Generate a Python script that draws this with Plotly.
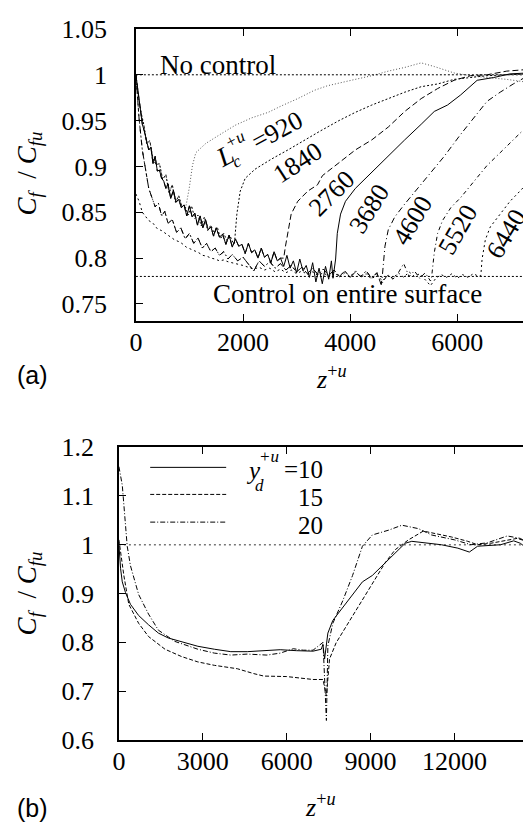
import plotly.graph_objects as go

W, H = 531, 840
SHIFT = 8  # the page body offsets the figure by 8 px; positions below are in screen pixels

# ---------------- panel (a) data ----------------
lc_values = [920, 1840, 2760, 3680, 4600, 5520, 6440]

# controlled (decaying) part, bundle A
ctrl_a_z = [0, 40, 80, 120, 160, 200, 240, 280, 320, 360, 400, 440, 480, 520, 560, 600, 650, 700, 750, 800,
            850, 900, 950, 1000, 1050, 1100, 1150, 1200, 1250, 1300, 1350, 1400, 1450, 1500, 1560, 1620, 1680,
            1740, 1800, 1860, 1920, 1980, 2040, 2100, 2160, 2220, 2280, 2340, 2400, 2460, 2520, 2580, 2640,
            2700, 2760, 2820, 2880, 2940, 3000, 3060, 3120, 3180, 3240, 3300, 3360, 3420, 3480, 3540, 3600,
            3650]
ctrl_a_cf = [1.000, 0.982, 0.968, 0.946, 0.938, 0.926, 0.918, 0.921, 0.903, 0.911, 0.895, 0.896, 0.887, 0.884,
             0.876, 0.881, 0.865, 0.874, 0.861, 0.864, 0.855, 0.858, 0.846, 0.857, 0.845, 0.849, 0.836, 0.846,
             0.833, 0.842, 0.831, 0.834, 0.824, 0.833, 0.823, 0.826, 0.815, 0.825, 0.812, 0.821, 0.813, 0.815,
             0.805, 0.816, 0.806, 0.809, 0.800, 0.811, 0.801, 0.804, 0.795, 0.807, 0.797, 0.800, 0.791, 0.803,
             0.789, 0.797, 0.784, 0.799, 0.786, 0.792, 0.779, 0.795, 0.774, 0.789, 0.772, 0.791, 0.777, 0.797]

# bundle B (short control sections)
ctrl_b_z = [0, 50, 100, 150, 200, 260, 320, 380, 440, 500, 560, 620, 680, 740, 800, 860, 900, 980, 1040,
            1100, 1160, 1220, 1280, 1340, 1400, 1460, 1520, 1580, 1640, 1700, 1760, 1820]
ctrl_b_cf = [1.000, 0.975, 0.958, 0.945, 0.925, 0.928, 0.908, 0.902, 0.903, 0.886, 0.891, 0.871, 0.880, 0.861,
             0.868, 0.856, 0.858, 0.847, 0.857, 0.843, 0.847, 0.835, 0.845, 0.830, 0.836, 0.827, 0.834, 0.821,
             0.827, 0.819, 0.824, 0.816]

# lower dotted branch C
ctrl_c_z = [0, 60, 120, 180, 240, 320, 400, 480, 550, 640, 720, 800, 860, 940, 1020, 1100, 1170, 1250, 1330,
            1400, 1480, 1560, 1640, 1720, 1800, 1900, 2000, 2100, 2200, 2300, 2400, 2500, 2600, 2700, 2800,
            2900, 3000, 3100, 3200, 3300, 3400, 3500, 3600, 3700, 3800, 3900, 4000, 4100, 4200, 4300, 4400,
            4500, 4600, 4700, 4800, 4900, 5000, 5100, 5200, 5300, 5400, 5500, 5600, 5700, 5800, 5900, 6000,
            6100, 6200, 6300, 6400]
ctrl_c_cf = [0.870, 0.862, 0.850, 0.846, 0.841, 0.838, 0.832, 0.830, 0.827, 0.823, 0.820, 0.818, 0.816, 0.812,
             0.810, 0.808, 0.806, 0.803, 0.802, 0.800, 0.799, 0.797, 0.798, 0.796, 0.795, 0.793, 0.792, 0.790,
             0.788, 0.790, 0.787, 0.789, 0.785, 0.788, 0.784, 0.787, 0.783, 0.786, 0.782, 0.785, 0.781, 0.784,
             0.780, 0.785, 0.779, 0.784, 0.780, 0.786, 0.779, 0.783, 0.777, 0.782, 0.775, 0.781, 0.778, 0.784,
             0.779, 0.785, 0.780, 0.783, 0.776, 0.770, 0.778, 0.782, 0.779, 0.783, 0.778, 0.782, 0.779, 0.783,
             0.780]

# dash-dot branch D
ctrl_d_z = [0, 60, 120, 180, 240, 300, 360, 420, 480, 540, 600, 680, 760, 840, 920, 1000, 1080, 1160, 1240,
            1320, 1400, 1480, 1560, 1640, 1720, 1800, 1900, 2000, 2100, 2200, 2300, 2400, 2500, 2600, 2700,
            2800, 2900, 3000, 3100, 3200, 3300, 3400, 3500, 3600, 3700, 3800, 3900, 4000, 4100, 4200, 4300,
            4400, 4500, 4580, 4700, 4800, 4900, 5000, 5100, 5200, 5300, 5400, 5500]
ctrl_d_cf = [1.000, 0.952, 0.918, 0.895, 0.876, 0.866, 0.856, 0.860, 0.846, 0.851, 0.838, 0.842, 0.828, 0.833,
             0.821, 0.827, 0.816, 0.822, 0.811, 0.816, 0.807, 0.811, 0.803, 0.807, 0.799, 0.804, 0.797, 0.801,
             0.794, 0.786, 0.797, 0.791, 0.796, 0.789, 0.794, 0.787, 0.792, 0.785, 0.790, 0.783, 0.789, 0.782,
             0.788, 0.781, 0.787, 0.780, 0.786, 0.779, 0.785, 0.780, 0.786, 0.778, 0.784, 0.771, 0.782, 0.777,
             0.784, 0.794, 0.780, 0.786, 0.778, 0.784, 0.775]

# recovery parts after the control section ends (z >= Lc)
rec_920_z = [920, 995, 1056, 1119, 1303, 1548, 1856, 2162, 2470, 2715, 3022, 3330, 3575, 4097, 4405, 4712,
             5019, 5326, 5571, 5940, 6248, 6555, 6924, 7293, 7360]
rec_920_cf = [0.852, 0.876, 0.901, 0.915, 0.925, 0.934, 0.945, 0.953, 0.959, 0.966, 0.974, 0.983, 0.988, 0.995,
              0.999, 1.004, 1.008, 1.013, 1.009, 1.002, 0.999, 0.997, 0.995, 0.992, 0.992]
rec_1840_z = [1840, 1885, 1948, 2040, 2225, 2530, 2838, 3146, 3452, 3791, 4097, 4405, 4712, 5019, 5326, 5634,
              5940, 6248, 6555, 6924, 7293, 7360]
rec_1840_cf = [0.816, 0.848, 0.873, 0.887, 0.897, 0.908, 0.918, 0.929, 0.939, 0.950, 0.959, 0.967, 0.974, 0.981,
               0.987, 0.990, 0.995, 0.997, 0.999, 1.000, 1.001, 1.001]
rec_2760_z = [2760, 2790, 2838, 2899, 3022, 3207, 3391, 3483, 3791, 4097, 4405, 4712, 5019, 5326, 5634, 5940,
              6248, 6555, 6924, 7293, 7360]
rec_2760_cf = [0.800, 0.812, 0.827, 0.848, 0.862, 0.873, 0.880, 0.890, 0.904, 0.918, 0.929, 0.943, 0.960, 0.974,
               0.985, 0.994, 0.999, 1.000, 1.004, 1.006, 1.006]
rec_3680_z = [3680, 3729, 3760, 3821, 3913, 4097, 4405, 4712, 5019, 5326, 5571, 5818, 6063, 6371, 6677, 6985,
              7322, 7360]
rec_3680_cf = [0.778, 0.799, 0.827, 0.848, 0.862, 0.876, 0.894, 0.911, 0.929, 0.946, 0.960, 0.967, 0.978, 0.994,
               0.997, 1.001, 1.002, 1.003]
rec_4600_z = [4600, 4650, 4712, 4834, 5019, 5265, 5511, 5756, 6063, 6309, 6555, 6801, 7046, 7322, 7360]
rec_4600_cf = [0.780, 0.813, 0.831, 0.845, 0.859, 0.876, 0.894, 0.911, 0.935, 0.953, 0.971, 0.981, 0.990, 0.999,
               1.000]
rec_5520_z = [5520, 5571, 5633, 5725, 5879, 6063, 6309, 6555, 6801, 7046, 7322, 7360]
rec_5520_cf = [0.779, 0.806, 0.827, 0.841, 0.855, 0.866, 0.883, 0.901, 0.915, 0.929, 0.945, 0.947]
rec_6440_z = [6440, 6463, 6524, 6616, 6801, 6985, 7169, 7322, 7360]
rec_6440_cf = [0.781, 0.799, 0.820, 0.834, 0.848, 0.862, 0.873, 0.883, 0.885]

no_control_level = 1.0
full_control_level = 0.78

# ---------------- panel (b) data ----------------
yd10_z = [0, 60, 120, 236, 413, 706, 1060, 1412, 1765, 2237, 2825, 3414, 4003, 4590, 5179, 5768, 6354, 6943,
          7237, 7296, 7356, 7473, 7650, 8003, 8356, 8709, 9062, 9415, 9884, 10237, 10474, 11063, 11533, 12122,
          12532, 12828, 13297, 13650, 14120, 14356, 14650, 14720]
yd10_cf = [1.000, 0.951, 0.924, 0.902, 0.878, 0.855, 0.836, 0.819, 0.809, 0.802, 0.792, 0.786, 0.781, 0.781,
           0.783, 0.785, 0.783, 0.782, 0.786, 0.796, 0.766, 0.819, 0.845, 0.872, 0.898, 0.924, 0.937, 0.957, 0.983,
           1.003, 1.007, 1.003, 1.000, 0.993, 0.985, 0.997, 0.998, 1.000, 1.008, 1.003, 0.990, 0.988]
yd15_z = [0, 60, 177, 353, 706, 1059, 1648, 2238, 2824, 3414, 4236, 4825, 5179, 6001, 6707, 6943, 7300, 7380,
          7420, 7533, 7767, 8120, 8473, 8826, 9180, 9531, 9884, 10357, 10887, 11296, 11886, 12475, 12828, 13297,
          13887, 14240, 14650, 14720]
yd15_cf = [1.010, 0.985, 0.937, 0.878, 0.839, 0.812, 0.786, 0.771, 0.760, 0.753, 0.746, 0.736, 0.731, 0.730,
           0.725, 0.724, 0.724, 0.700, 0.690, 0.766, 0.799, 0.832, 0.865, 0.898, 0.931, 0.964, 0.990, 1.010,
           1.028, 1.023, 1.016, 1.007, 1.000, 1.003, 1.010, 1.013, 1.006, 1.004]
yd20_z = [0, 120, 177, 236, 297, 413, 530, 706, 1059, 1412, 2001, 2824, 3414, 4003, 4589, 5295, 5768, 6238,
          6590, 6943, 7300, 7360, 7420, 7473, 7650, 8003, 8356, 8709, 9062, 9651, 10120, 10710, 11180, 12002,
          12592, 13181, 13887, 14357, 14650, 14720]
yd20_cf = [1.160, 1.122, 1.082, 1.036, 0.997, 0.957, 0.931, 0.898, 0.858, 0.825, 0.802, 0.786, 0.778, 0.774,
           0.776, 0.774, 0.778, 0.787, 0.784, 0.784, 0.800, 0.700, 0.640, 0.793, 0.839, 0.885, 0.937, 0.997,
           1.020, 1.030, 1.040, 1.033, 1.020, 1.010, 1.000, 1.004, 1.018, 1.013, 1.003, 1.000]

legend_labels = ["=10", "15", "20"]

# ---------------- helpers ----------------
def px_x(p):
    return (p - SHIFT) / W


def px_y(p):
    return 1 - (p - SHIFT) / H


SERIF = "Liberation Serif"
SANS = "Liberation Sans"

fig = go.Figure()


def join(base_z, base_cf, lc, rz, rc):
    z = [a for a in base_z if a < lc] + rz
    c = [b for a, b in zip(base_z, base_cf) if a < lc] + rc
    return z, c


curve_defs = [
    (920, ctrl_b_z, ctrl_b_cf, rec_920_z, rec_920_cf, "1px,2px", "#555555"),
    (1840, ctrl_b_z, ctrl_b_cf, rec_1840_z, rec_1840_cf, "2px,2px", "black"),
    (2760, ctrl_a_z, ctrl_a_cf, rec_2760_z, rec_2760_cf, "6px,3px", "black"),
    (3680, ctrl_a_z, ctrl_a_cf, rec_3680_z, rec_3680_cf, "solid", "black"),
    (4600, ctrl_d_z, ctrl_d_cf, rec_4600_z, rec_4600_cf, "6px,3px,1px,3px", "black"),
    (5520, ctrl_d_z, ctrl_d_cf, rec_5520_z, rec_5520_cf, "4px,3px,1px,3px", "black"),
    (6440, ctrl_c_z, ctrl_c_cf, rec_6440_z, rec_6440_cf, "2px,3px", "black"),
]
for lc, bz, bc, rz, rc, dash, col in curve_defs:
    z, c = join(bz, bc, lc, rz, rc)
    fig.add_trace(go.Scatter(x=z, y=c, mode="lines", line=dict(color=col, width=1, dash=dash),
                             xaxis="x", yaxis="y", showlegend=False, hoverinfo="skip"))

for lvl in [no_control_level, full_control_level]:
    fig.add_trace(go.Scatter(x=[0, 7360], y=[lvl, lvl], mode="lines",
                             line=dict(color="black", width=1, dash="2px,2px"),
                             xaxis="x", yaxis="y", showlegend=False, hoverinfo="skip"))

# panel b
fig.add_trace(go.Scatter(x=[0, 14720], y=[1, 1], mode="lines",
                         line=dict(color="#777777", width=1.5, dash="2px,3px"),
                         xaxis="x2", yaxis="y2", showlegend=False, hoverinfo="skip"))
for z, c, dash in [(yd10_z, yd10_cf, "solid"), (yd15_z, yd15_cf, "4px,2px"),
                   (yd20_z, yd20_cf, "5px,2px,1px,2px")]:
    fig.add_trace(go.Scatter(x=z, y=c, mode="lines", line=dict(color="black", width=1, dash=dash),
                             xaxis="x2", yaxis="y2", showlegend=False, hoverinfo="skip"))


def ax(**kw):
    d = dict(showline=True, linecolor="black", linewidth=1.5, mirror="allticks", ticks="inside",
             ticklen=7, tickwidth=1.2, tickcolor="black", showgrid=False, zeroline=False,
             tickfont=dict(family=SERIF, size=26, color="black"))
    d.update(kw)
    return d


fig.update_layout(
    width=W, height=H, margin=dict(l=0, r=0, t=0, b=0),
    paper_bgcolor="white", plot_bgcolor="white", showlegend=False,
    xaxis=ax(domain=[px_x(130.5), px_x(530)], range=[0, 7360], anchor="y",
             tickvals=[0, 2000, 4000, 6000], ticktext=["0", "2000", "4000", "6000"], ticklabelstandoff=-3),
    yaxis=ax(domain=[px_y(317.3), px_y(15.2)], range=[0.7318, 1.05], anchor="x",
             tickvals=[0.75, 0.8, 0.85, 0.9, 0.95, 1.0, 1.05],
             ticktext=["0.75", "0.8", "0.85", "0.9", "0.95", "1", "1.05"], ticklabelstandoff=22),
    xaxis2=ax(domain=[px_x(113.3), px_x(530.4)], range=[0, 14720], anchor="y2",
              tickvals=[0, 3000, 6000, 9000, 12000], ticktext=["0", "3000", "6000", "9000", "12000"],
              ticklabelstandoff=-3),
    yaxis2=ax(domain=[px_y(751.7), px_y(448.3)], range=[0.6, 1.2], anchor="x2",
              tickvals=[0.6, 0.7, 0.8, 0.9, 1.0, 1.1, 1.2],
              ticktext=["0.6", "0.7", "0.8", "0.9", "1", "1.1", "1.2"], ticklabelstandoff=18),
)

ann = []


def add_text(text, x, y, size=26, angle=0, family=SERIF, xanchor="center"):
    ann.append(dict(text=text, x=px_x(x), y=px_y(y), xref="paper", yref="paper", showarrow=False,
                    textangle=angle, xanchor=xanchor, yanchor="middle",
                    font=dict(family=family, size=size, color="black")))


# panel a texts
add_text("No control", 214, 53, size=27)
add_text("Control on entire surface", 345, 290, size=27)
add_text("<i>L</i>", 221, 147, size=27, angle=-28)
add_text("<i>+u</i>", 231, 130, size=17, angle=-28)
add_text("<i>c</i>", 233, 153, size=17, angle=-28)
add_text("=920", 274, 120, size=26, angle=-28)
add_text("1840", 295, 154, size=26, angle=-33)
add_text("2760", 329, 186, size=26, angle=-45)
add_text("3680", 367, 201, size=26, angle=-58)
add_text("4600", 411, 214, size=26, angle=-59)
add_text("5520", 457, 223, size=26, angle=-60)
add_text("6440", 506, 227, size=26, angle=-59)
cf_title = "<i>C</i><sub><i>f</i></sub> &nbsp;/ <i>C</i><sub><i>fu</i></sub>"
add_text(cf_title, 22, 165, size=27, angle=-90)
add_text("<i>z</i><sup>+<i>u</i></sup>", 328, 376, size=26)
add_text("(a)", SHIFT, 374, size=25, family=SANS, xanchor="left")

# panel b texts
add_text(cf_title, 22, 600, size=27, angle=-90)
add_text("<i>z</i><sup>+<i>u</i></sup>", 317, 819, size=26)
add_text("(b)", SHIFT, 822, size=25, family=SANS, xanchor="left")
add_text("<i>y</i>", 250, 473, size=25)
add_text("<i>+u</i>", 265, 458, size=17)
add_text("<i>d</i>", 256, 488, size=17)
add_text(legend_labels[0], 322, 472, size=25, xanchor="right")
add_text(legend_labels[1], 322, 500, size=25, xanchor="right")
add_text(legend_labels[2], 322, 529, size=25, xanchor="right")
fig.update_layout(annotations=ann)

# legend sample lines
shapes = []
for yy, dash in [(469.3, "solid"), (497.3, "4px,2px"), (526, "5px,2px,1px,2px")]:
    shapes.append(dict(type="line", xref="paper", yref="paper", x0=px_x(145), x1=px_x(222),
                       y0=px_y(yy), y1=px_y(yy), line=dict(color="black", width=1, dash=dash)))
fig.update_layout(shapes=shapes)

fig.write_html("out.html")
